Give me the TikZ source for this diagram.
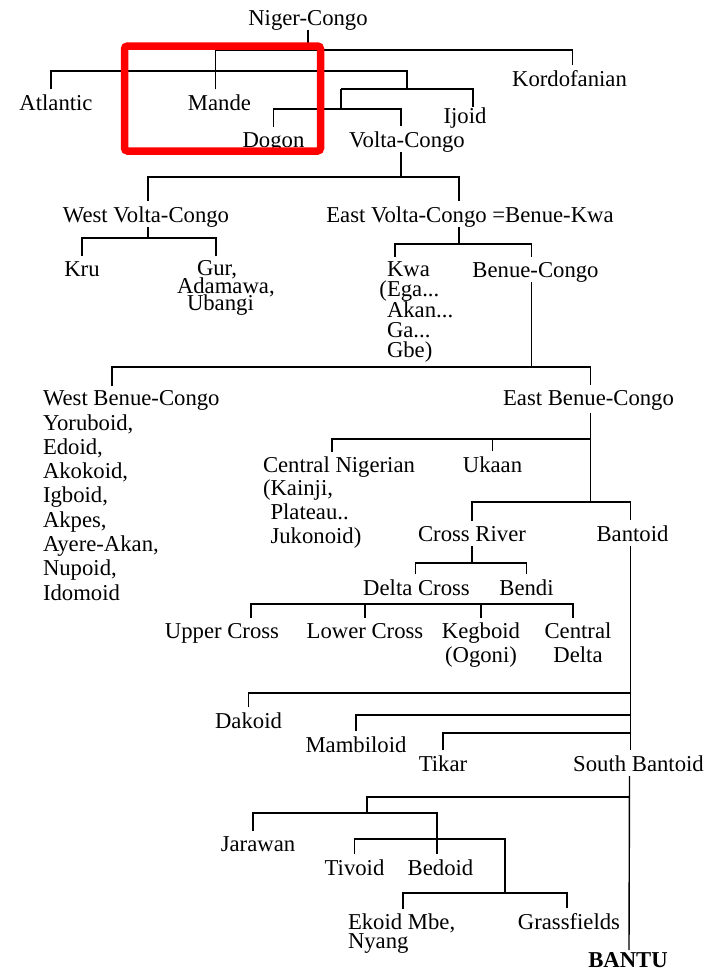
\documentclass[tikz,border=0pt]{standalone}
\usepackage{fontspec}
\setmainfont{Liberation Serif}
\newcommand\lblsize[1]{\fontsize{22.7}{#1}\selectfont\lineskiplimit=-30pt\lineskip=0pt}
\tikzset{lbl/.style={inner sep=0pt, outer sep=5pt, anchor=base, font=\lblsize{24.3}}}
\begin{document}
\begin{tikzpicture}[x=1pt, y=-1pt, line width=1.4pt]
\useasboundingbox (0,0) rectangle (716,970);

\node[lbl] (nc) at (308,25) {Niger-Congo};
\node[lbl] (atl) at (56,110) {Atlantic};
\node[lbl] (mande) at (219.5,110) {Mande};
\node[lbl] (kord) at (569.5,86) {Kordofanian};
\node[lbl] (ijoid) at (465,123) {Ijoid};
\node[lbl] (dogon) at (273.5,147) {Dogon};
\node[lbl] (vc) at (407,147) {Volta-Congo};
\node[lbl] (wvc) at (146,222) {West Volta-Congo};
\node[lbl] (evc) at (470,222) {East Volta-Congo =Benue-Kwa};
\node[lbl] (kru) at (82,276) {Kru};
\node[lbl, anchor=north west, align=left, font=\lblsize{17.5}] (gur) at (172,255.7) {\hspace*{20pt}Gur,\\Adamawa,\\\hspace*{10pt}Ubangi};
\node[lbl, anchor=north west, align=left, font=\lblsize{20.3}] (kwa) at (382,256.7) {Kwa\\\llap{(}Ega...\\Akan...\\Ga...\\Gbe)};
\node[lbl] (bc) at (535.5,277) {Benue-Congo};
\node[lbl, anchor=north west, align=left] (wbc) at (38,385.7) {West Benue-Congo\\Yoruboid,\\Edoid,\\Akokoid,\\Igboid,\\Akpes,\\Ayere-Akan,\\Nupoid,\\Idomoid};
\node[lbl] (ebc) at (588.5,405) {East Benue-Congo};
\node[lbl, anchor=north west, align=left, font=\lblsize{23.7}] (cn) at (258,451.5) {Central Nigerian\\(Kainji,\\\phantom{(}Plateau..\\\phantom{(}Jukonoid)};
\node[lbl] (ukaan) at (492.5,472) {Ukaan};
\node[lbl] (cr) at (472,541) {Cross River};
\node[lbl] (bantoid) at (632.5,541) {Bantoid};
\node[lbl] (dc) at (416.5,595) {Delta Cross};
\node[lbl] (bendi) at (526.5,595) {Bendi};
\node[lbl] (uc) at (222,638) {Upper Cross};
\node[lbl] (lc) at (365,638) {Lower Cross};
\node[lbl, anchor=north, align=center, font=\lblsize{24}] (keg) at (481,617.5) {Kegboid\\(Ogoni)};
\node[lbl, anchor=north, align=center, font=\lblsize{24}] (cd) at (578,617.5) {Central\\Delta};
\node[lbl] (dak) at (248.5,728) {Dakoid};
\node[lbl] (mam) at (356,752) {Mambiloid};
\node[lbl] (tikar) at (443,771) {Tikar};
\node[lbl] (sb) at (638.5,771) {South Bantoid};
\node[lbl] (jar) at (258,851) {Jarawan};
\node[lbl] (tiv) at (354.5,875) {Tivoid};
\node[lbl] (bed) at (440.5,875) {Bedoid};
\node[lbl, anchor=north west, align=left, font=\lblsize{19.5}] (ekoid) at (343,908.7) {Ekoid Mbe,\\Nyang};
\node[lbl] (grass) at (569,929) {Grassfields};
\node[lbl, font=\lblsize{24}\bfseries] (bantu) at (628,967) {BANTU};

\coordinate (j1) at (307,50);
\coordinate (j2) at (407,71);
\coordinate (j3) at (407,89);
\coordinate (j4) at (341,89);
\coordinate (j5) at (341,109);
\coordinate (j6) at (401,177);
\coordinate (j7) at (148,238);
\coordinate (j8) at (459,244);
\coordinate (j9) at (531,367);
\coordinate (j10) at (591,439);
\coordinate (j11) at (591,502);
\coordinate (j12) at (472,563);
\coordinate (j13) at (417,604);
\coordinate (j14) at (630,693);
\coordinate (j15) at (630,715);
\coordinate (j16) at (630,733);
\coordinate (j17) at (629,797);
\coordinate (j18) at (367,813);
\coordinate (j19) at (505,839);
\coordinate (j20) at (505,893);

\draw ([yshift=5pt]nc.south) |- (j1);
\draw ([xshift=-4pt]mande.north) |- (j1) -| ([xshift=3pt]kord.north);
\draw ([xshift=-5pt]atl.north) |- (j2) -- (j3);
\draw (j4) -| ([xshift=8pt,yshift=-5pt]ijoid.north);
\draw (j4) -- (j5);
\draw (dogon.north) |- (j5) -| ([xshift=-6pt]vc.north);
\draw ([xshift=-6pt,yshift=5pt]vc.south) |- (j6);
\draw ([xshift=2pt]wvc.north) |- (j6) -| ([xshift=-11pt]evc.north);
\draw ([xshift=2pt,yshift=5pt]wvc.south) |- (j7);
\draw (kru.north) |- (j7) -| ([xshift=44pt]gur.north west);
\draw ([xshift=-11pt,yshift=5pt]evc.south) |- (j8);
\draw ([xshift=13pt]kwa.north west) |- (j8) -| ([xshift=-4pt]bc.north);
\draw ([xshift=-4pt,yshift=5pt]bc.south) |- (j9);
\draw ([xshift=74pt]wbc.north west) |- (j9) -| ([xshift=2pt]ebc.north);
\draw ([xshift=2pt,yshift=2pt]ebc.south) |- (j11);
\draw ([xshift=74pt]cn.north west) |- (j10);
\draw (ukaan.north) -- (ukaan.north |- j10);
\draw (cr.north) |- (j11) -| ([xshift=-2pt]bantoid.north);
\draw (cr.south) |- (j12);
\draw ([xshift=-1pt]dc.north) |- (j12) -| (bendi.north);
\draw ([xshift=29pt]uc.north) |- (j13) -| ([xshift=-5pt]cd.north);
\draw (lc.north) -- (lc.north |- j13);
\draw (keg.north) -- (keg.north |- j13);
\draw ([xshift=-2pt]bantoid.south) -- ([xshift=-8pt]sb.north);
\draw (dak.north) |- (j14);
\draw (mam.north) |- (j15);
\draw (tikar.north) |- (j16);
\draw ([xshift=-9pt]sb.south) -- ([xshift=1pt,yshift=-3pt]bantu.north);
\draw (j17) -| (j18);
\draw ([xshift=-5pt]jar.north) |- (j18) -| ([xshift=-3.5pt]bed.north);
\draw (tiv.north) |- (j19) -- (j20);
\draw ([xshift=60pt]ekoid.north west) |- (j20) -| ([xshift=-2pt]grass.north);

\draw[red, line width=7.5pt, rounded corners=3pt] (124.5,46) rectangle (320.5,151);
\end{tikzpicture}
\end{document}
